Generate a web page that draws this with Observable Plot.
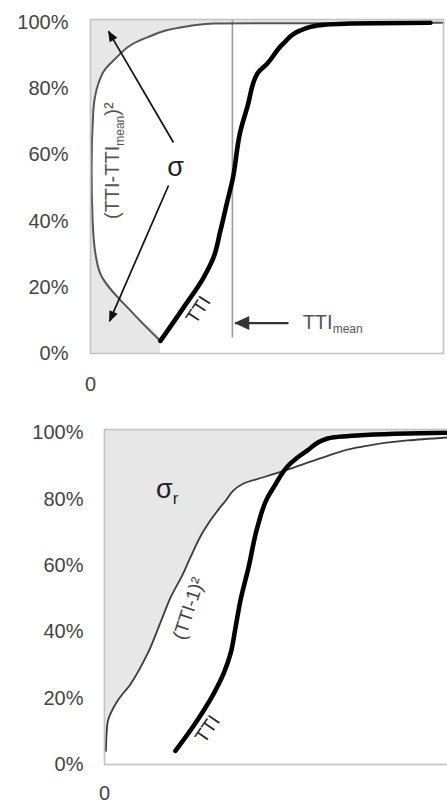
<!DOCTYPE html>
<html><head><meta charset="utf-8">
<script src="https://cdn.jsdelivr.net/npm/d3@7"></script>
<script src="https://cdn.jsdelivr.net/npm/@observablehq/plot@0.6"></script>
<style>
html,body{margin:0;padding:0;background:#fff;overflow:hidden}
#wrap{position:relative;width:447px;height:803px;overflow:hidden;background:#fff}
#top,#bottom{position:absolute;left:0}
#top{top:0;width:447px}
#bottom{top:400px;width:460px}
svg{max-width:none !important}
</style></head>
<body><div id="wrap"><div id="top"></div><div id="bottom"></div></div>
<script>
// ---------- data (x in % of axis width, y = cumulative share) ----------
const yTicks = [0, 0.2, 0.4, 0.6, 0.8, 1];
const xTicks = [0];

// top panel: TTI distribution and (TTI - TTImean)^2
const topThickX = [19.8, 26.3, 32.0, 34.8, 36.8, 38.8, 40.2, 42.5, 44.5, 47.3, 50.1, 54.7, 59.5, 64.3, 73.7, 96.3];
const topThickY = [0.038, 0.138, 0.229, 0.289, 0.371, 0.462, 0.523, 0.674, 0.748, 0.847, 0.877, 0.938, 0.977, 0.992, 0.998, 1.0];
const topThinX  = [19.8, 12.2, 2.8, 1.4, 0.6, 0.3, 0.8, 3.4, 6.5, 16.1, 25.5, 34.8, 59.5, 100];
const topThinY  = [0.038, 0.12, 0.241, 0.302, 0.402, 0.562, 0.735, 0.847, 0.886, 0.956, 0.986, 0.998, 0.999, 1.0];
const topMeanX = 40.2;          // TTImean
const topMeanY = [0.047, 1.01]; // extent of the TTImean rule

// bottom panel: TTI distribution and (TTI - 1)^2
const botThickX = [20.1, 25.2, 30.9, 33.7, 35.7, 37.1, 38.5, 40.8, 43.3, 46.2, 47.9, 52.7, 57.5, 63.2, 71.7, 85.8, 96.6];
const botThickY = [0.041, 0.116, 0.213, 0.273, 0.334, 0.412, 0.494, 0.594, 0.715, 0.805, 0.835, 0.908, 0.947, 0.983, 0.992, 0.998, 1.0];
const botThinX  = [0.4, 0.8, 3.7, 7.4, 12.2, 16.4, 18.7, 22.1, 24.4, 28.0, 33.7, 39.4, 45.0, 51.3, 62.0, 71.7, 85.8, 97.2];
const botThinY  = [0.041, 0.122, 0.192, 0.243, 0.334, 0.443, 0.503, 0.572, 0.626, 0.703, 0.787, 0.847, 0.866, 0.887, 0.926, 0.956, 0.977, 0.986];

// annotation texts ({...} = subscript)
const topTexts = ["σ", "(TTI-TTI{mean})²", "TTI", "TTI{mean}"];
const botTexts = ["σ{r}", "(TTI-1)²", "TTI"];

// ---------- helpers ----------
const xMax = 100, yMax = 1.01;
const zip = (xs, ys) => xs.map((x, i) => ({x, y: ys[i]}));
const font = '"Liberation Sans", Arial, Helvetica, sans-serif';
const shade = "#e7e7e7";
const pct = d3.format(".0%");
const curve = "monotone-y";

function subscripts(svg) {
  d3.select(svg).selectAll("text").each(function() {
    const el = d3.select(this);
    const t = el.text();
    if (!t.includes("{")) return;
    const g = this.closest("[font-size]");
    const fs = g ? parseFloat(g.getAttribute("font-size")) : 20;
    const sub = Math.round(fs * 0.62);
    const shift = fs * 0.22;
    el.text(null);
    let shifted = false;
    t.split(/(\{[^}]*\})/).forEach(part => {
      if (!part) return;
      if (part.startsWith("{")) {
        el.append("tspan").attr("font-size", sub).attr("dy", shift).text(part.slice(1, -1));
        shifted = true;
      } else {
        const ts = el.append("tspan").text(part);
        if (shifted) { ts.attr("dy", -shift); shifted = false; }
      }
    });
  });
}
function fillMarkers(svg) {
  d3.select(svg).selectAll("marker").each(function() {
    const m = d3.select(this);
    const c = m.attr("stroke");
    const big = String(c).toLowerCase().includes("333");
    const L = big ? 15 : 11, W = big ? 7 : 4.5;
    m.attr("markerUnits", "userSpaceOnUse")
     .attr("viewBox", `${-L - 1} ${-W - 1} ${L + 3} ${2 * W + 2}`)
     .attr("markerWidth", L + 3).attr("markerHeight", 2 * W + 2)
     .attr("refX", 0).attr("refY", 0)
     .attr("fill", c).attr("stroke", "none");
    m.selectAll("path").attr("d", `M${-L + 1},${-W}L1,0L${-L + 1},${W}Z`);
  });
}

// ---------- top panel ----------
const topThick = zip(topThickX, topThickY);
const topThin = zip(topThinX, topThinY);
const topWhite = [{x: topThinX[0], y: 0}, ...topThin];
const sigmaArrows = [
  {x1: 23.5, y1: 0.638, x2: 5.1, y2: 0.974},
  {x1: 22.1, y1: 0.508, x2: 5.4, y2: 0.098}
];
const meanArrow = [{x1: 56.1, y1: 0.092, x2: 41.0, y2: 0.092}];

const topPlot = Plot.plot({
  width: 447, height: 400,
  marginLeft: 90, marginRight: 4, marginTop: 19, marginBottom: 47,
  style: {fontFamily: font, color: "#444", background: "#fff", maxWidth: "none"},
  x: {domain: [0, xMax]},
  y: {domain: [0, yMax]},
  marks: [
    Plot.frame({fill: shade, stroke: null}),
    Plot.areaX(topWhite, {x1: "x", x2: xMax, y: "y", fill: "#fff", curve}),
    Plot.ruleX([topMeanX], {y1: topMeanY[0], y2: topMeanY[1], stroke: "#9a9a9a", strokeWidth: 1.6}),
    Plot.line(topThin, {x: "x", y: "y", stroke: "#555", strokeWidth: 2, curve}),
    Plot.line(topThick, {x: "x", y: "y", stroke: "#000", strokeWidth: 4.6, curve, strokeLinecap: "round"}),
    Plot.link(sigmaArrows, {x1: "x1", y1: "y1", x2: "x2", y2: "y2", stroke: "#111", strokeWidth: 1.7, markerEnd: "arrow"}),
    Plot.link(meanArrow, {x1: "x1", y1: "y1", x2: "x2", y2: "y2", stroke: "#333", strokeWidth: 2.2, markerEnd: "arrow"}),
    Plot.text([topTexts[0]], {x: 24.1, y: 0.562, text: d => d, fontSize: 27, fill: "#222", lineAnchor: "middle"}),
    Plot.text([topTexts[1]], {x: 6.4, y: 0.583, text: d => d, fontSize: 20, fill: "#555", rotate: -90, lineAnchor: "middle"}),
    Plot.text([topTexts[2]], {x: 30.6, y: 0.132, text: d => d, fontSize: 19, fill: "#222", rotate: -57, lineAnchor: "middle"}),
    Plot.text([topTexts[3]], {x: 60.1, y: 0.094, text: d => d, fontSize: 20, fill: "#555", textAnchor: "start", lineAnchor: "middle"}),
    Plot.axisY(yTicks, {tickFormat: pct, tickSize: 0, tickPadding: 22, fontSize: 20, label: null}),
    Plot.axisX(xTicks, {tickSize: 0, tickPadding: 23, fontSize: 20, label: null}),
    Plot.frame({stroke: "#c4c4c4", strokeWidth: 1.6})
  ]
});
subscripts(topPlot);
fillMarkers(topPlot);
document.getElementById("top").append(topPlot);

// ---------- bottom panel ----------
const botThick = zip(botThickX, botThickY);
const botThin = zip(botThinX, botThinY);
const botWhiteThin = [{x: botThinX[0], y: 0}, ...botThin];

const botPlot = Plot.plot({
  width: 460, height: 403,
  marginLeft: 104, marginRight: 3, marginTop: 29, marginBottom: 39,
  style: {fontFamily: font, color: "#444", background: "#fff", maxWidth: "none"},
  x: {domain: [0, xMax]},
  y: {domain: [0, yMax]},
  marks: [
    Plot.frame({fill: shade, stroke: null}),
    Plot.areaX(botWhiteThin, {x1: "x", x2: xMax, y: "y", fill: "#fff", curve}),
    Plot.areaX(botThick, {x1: "x", x2: xMax, y: "y", fill: "#fff", curve}),
    Plot.line(botThin, {x: "x", y: "y", stroke: "#3a3a3a", strokeWidth: 1.8, curve}),
    Plot.line(botThick, {x: "x", y: "y", stroke: "#000", strokeWidth: 4.6, curve, strokeLinecap: "round"}),
    Plot.text([botTexts[0]], {x: 14.6, y: 0.829, text: d => d, fontSize: 27, fill: "#222", textAnchor: "start", lineAnchor: "middle"}),
    Plot.text([botTexts[1]], {x: 23.9, y: 0.47, text: d => d, fontSize: 19, fill: "#444", rotate: -72, lineAnchor: "middle"}),
    Plot.text([botTexts[2]], {x: 29.2, y: 0.107, text: d => d, fontSize: 19, fill: "#222", rotate: -55, lineAnchor: "middle"}),
    Plot.axisY(yTicks, {tickFormat: pct, tickSize: 0, tickPadding: 21, fontSize: 20, label: null}),
    Plot.axisX(xTicks, {tickSize: 0, tickPadding: 21, fontSize: 20, label: null}),
    Plot.frame({stroke: "#c4c4c4", strokeWidth: 1.6})
  ]
});
subscripts(botPlot);
document.getElementById("bottom").append(botPlot);
</script>
</body></html>
